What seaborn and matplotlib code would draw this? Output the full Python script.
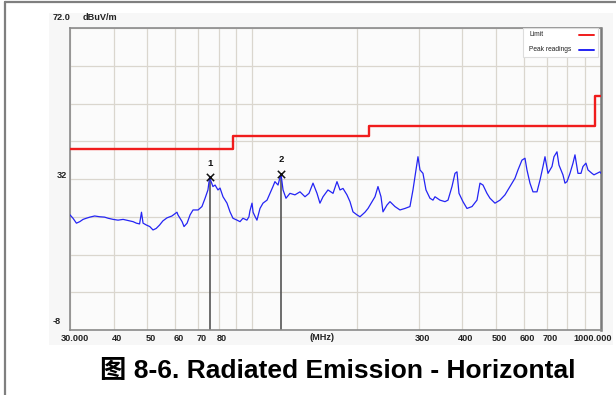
import matplotlib
matplotlib.use("Agg")
import matplotlib.pyplot as plt
import matplotlib.transforms as mtransforms
from matplotlib.patches import Rectangle
from matplotlib.lines import Line2D
import seaborn as sns
import pandas as pd

# Peak readings: frequency (MHz) and level (dBuV/m)
peak_freq = [
    30.0, 30.6, 31.3, 32.0, 32.7, 33.4, 34.2, 35.3, 36.5, 37.7, 38.6, 39.9,
    41.2, 42.6, 44.0, 45.5, 46.5, 47.5, 48.1, 48.6, 49.7, 50.8, 51.9, 53.0,
    54.2, 55.4, 56.9, 58.8, 60.8, 61.2, 62.9, 63.7, 65.0, 66.3, 67.6, 69.9,
    71.7, 73.2, 74.6, 75.4, 77.1, 78.2, 79.7, 80.8, 82.4, 84.6, 86.3, 88.0,
    90.4, 92.2, 94.0, 96.5, 97.8, 98.4, 99.8, 100.5, 101.9, 103.1, 105.2,
    107.3, 110.2, 112.4, 114.6, 116.1, 118.5, 120.8, 122.5, 124.9, 128.2,
    132.5, 137.0, 141.6, 145.4, 149.3, 153.3, 156.3, 159.5, 164.8, 170.4,
    174.9, 178.4, 182.0, 186.8, 190.6, 194.4, 199.6, 203.6, 210.4, 214.7,
    220.4, 224.8, 229.3, 233.9, 237.0, 243.3, 248.2, 256.5, 265.1, 274.0,
    283.2, 288.9, 292.7, 298.6, 302.6, 308.6, 314.8, 323.2, 329.7, 334.1,
    345.3, 356.9, 364.1, 373.8, 381.3, 386.3, 391.5, 401.9, 412.7, 426.6,
    440.9, 449.7, 458.7, 470.9, 480.4, 496.5, 513.2, 530.4, 548.2, 566.6,
    578.0, 593.4, 605.3, 613.3, 625.6, 638.1, 655.3, 668.4, 681.7, 690.8,
    704.6, 723.5, 733.1, 747.7, 757.6, 777.8, 788.3, 798.8, 814.8, 831.1,
    842.1, 858.9, 876.2, 887.7, 905.5, 917.6, 942.0, 954.6, 973.8, 993.1,
    1000.0,
]
peak_level = [
    22.5, 21.6, 20.3, 20.7, 21.3, 21.6, 21.9, 22.2, 22.0, 21.9, 21.6, 21.3,
    21.1, 21.3, 21.0, 20.7, 20.3, 20.1, 23.2, 20.3, 19.8, 19.4, 18.5, 18.9,
    19.8, 20.9, 21.7, 22.2, 23.2, 22.5, 20.7, 19.4, 20.3, 22.5, 23.8, 23.8,
    24.7, 26.9, 29.1, 32.4, 30.0, 30.4, 29.1, 29.6, 27.3, 25.6, 23.3, 21.6,
    21.1, 20.7, 21.6, 21.1, 22.0, 23.5, 25.6, 23.2, 22.0, 21.1, 24.2,
    25.6, 26.4, 28.2, 30.0, 31.3, 30.4, 33.4, 29.1, 26.9, 28.2,
    27.8, 28.6, 27.3, 28.2, 30.9, 28.2, 25.6, 27.3, 29.1, 28.2,
    31.3, 29.1, 29.5, 27.8, 26.0, 23.3, 22.5, 22.0, 23.2, 24.2,
    26.0, 27.3, 30.0, 27.3, 23.3, 25.1, 26.0, 24.7, 23.8, 24.2,
    24.7, 29.1, 32.6, 37.9, 34.4, 33.5, 29.1, 26.9, 26.4, 27.3,
    26.4, 26.0, 26.4, 30.0, 33.5, 33.9, 28.2, 26.0, 24.2, 24.7,
    26.4, 30.9, 30.4, 28.2, 26.9, 25.6, 26.4, 27.8, 30.0, 32.2,
    34.4, 37.0, 37.5, 34.4, 30.9, 28.6, 28.6, 31.7, 35.3, 37.9,
    33.5, 35.3, 37.9, 39.2, 35.7, 33.1, 30.9, 31.3, 33.5, 36.2,
    38.4, 33.5, 33.5, 35.3, 36.2, 34.4, 33.5, 33.1, 33.5, 33.9,
    33.5,
]

# Stepped limit line
limit_freq = [30, 88, 216, 960, 1000]
limit_level = [40.0, 43.5, 46.0, 54.0, 54.0]

# Marked peaks
marker_ids = ["1", "2"]
marker_freq = [75.4, 120.8]
marker_level = [32.4, 33.4]

# Axis grid and labels
x_grid = [30, 40, 50, 60, 70, 80, 90, 100, 200, 300, 400, 500, 600, 700, 800, 900, 1000]
x_labels = ["30.000", "40", "50", "60", "70", "80", "", "", "", "300", "400",
            "500", "600", "700", "", "", "1000.000"]
y_grid = [-8, 2, 12, 22, 32, 42, 52, 62, 72]
y_min, y_max = -8, 72
unit_label = "dBuV/m"
freq_unit = "(MHz)"
title = "图 8-6. Radiated Emission - Horizontal"

sns.set_style("white")
plt.rcParams["font.family"] = ["Liberation Sans", "Noto Sans CJK SC", "DejaVu Sans"]

W, H = 616, 395
fig = plt.figure(figsize=(W / 100, H / 100), dpi=100)
fig.patch.set_facecolor("white")

# light panel behind the chart
fig.patches.append(Rectangle((49 / W, 1 - 345 / H), (613 - 49) / W, (345 - 13) / H,
                             transform=fig.transFigure, facecolor="#f7f7f7",
                             edgecolor="none", zorder=-5))
# frame lines on the left and top
fig.lines.append(Line2D([5 / W, 5 / W], [0, 1 - 2 / H], transform=fig.transFigure,
                        color="#7f7f7f", lw=1.6, zorder=-4))
fig.lines.append(Line2D([5 / W, 1], [1 - 2 / H, 1 - 2 / H], transform=fig.transFigure,
                        color="#7f7f7f", lw=1.6, zorder=-4))

ax = fig.add_axes([70 / W, 1 - 330 / H, 531 / W, 302 / H])
ax.set_facecolor("#fbfbfb")

peaks = pd.DataFrame({"freq": peak_freq, "level": peak_level})
limit = pd.DataFrame({"freq": limit_freq, "level": limit_level})
marks = pd.DataFrame({"freq": marker_freq, "level": marker_level, "id": marker_ids})

sns.lineplot(data=limit, x="freq", y="level", ax=ax, estimator=None, sort=False,
             drawstyle="steps-post", color="#f01c1c", lw=1.7, zorder=4)
sns.lineplot(data=peaks, x="freq", y="level", ax=ax, estimator=None, sort=False,
             color="#2424f4", lw=0.9, zorder=3)

# marker drop lines, crosses and numbers
ax.vlines(marks["freq"], y_min, marks["level"], color="#555555", lw=1.2, zorder=2)
sns.scatterplot(data=marks, x="freq", y="level", ax=ax, marker="x", s=28,
                color="#111111", linewidth=1.1, zorder=5)
for _, r in marks.iterrows():
    ax.annotate(r["id"], (r["freq"], r["level"]), xytext=(0, 7.0),
                textcoords="offset points", ha="center", va="bottom",
                fontsize=6.8, fontweight="bold", color="#111111")

ax.set_xscale("log")
ax.set_xlim(30, 1000)
ax.set_ylim(y_min, y_max)
ax.set_xticks(x_grid)
ax.set_xticklabels(x_labels)
ax.xaxis.set_minor_locator(matplotlib.ticker.NullLocator())
ax.set_yticks(y_grid)
ax.set_yticklabels([])
ax.tick_params(axis="both", length=0)
ax.tick_params(axis="x", pad=3.2, labelsize=6.6, labelcolor="#222222")
xtl = ax.get_xticklabels()
shift = mtransforms.ScaledTranslation(3.5 / 100, 0, fig.dpi_scale_trans)
for lab in xtl:
    lab.set_fontweight("bold")
    lab.set_transform(lab.get_transform() + shift)
xtl[0].set_transform(xtl[0].get_transform() +
                     mtransforms.ScaledTranslation(1.5 / 100, 0, fig.dpi_scale_trans))
# keep the last label inside the figure
xtl[-1].set_horizontalalignment("right")
xtl[-1].set_transform(xtl[-1].get_transform() +
                      mtransforms.ScaledTranslation(7.5 / 100, 0, fig.dpi_scale_trans))
ax.grid(True, color="#dad6ce", lw=0.9)
ax.set_axisbelow(True)
ax.set_xlabel("")
ax.set_ylabel("")
for s in ax.spines.values():
    s.set_color("#8a8a8a")
    s.set_linewidth(1.2)
    s.set_visible(True)
ax.spines["right"].set_linewidth(1.8)
ax.spines["right"].set_color("#7a7a7a")

# axis value labels
ytrans = mtransforms.blended_transform_factory(ax.transAxes, ax.transData)
lab_kw = dict(fontsize=6.6, fontweight="bold", color="#222222", xycoords=ytrans,
              textcoords="offset points")
ax.annotate("72.0", (0, y_max), xytext=(-12.2, 7.6), ha="left", va="center", **lab_kw)
ax.annotate(unit_label, (0, y_max), xytext=(9.4, 7.6), ha="left", va="center", **lab_kw)
ax.annotate("32", (0, 32), xytext=(-5.8, 2.2), ha="center", va="center", **lab_kw)
ax.annotate("-8", (0, y_min), xytext=(-12.2, 5.8), ha="left", va="center", **lab_kw)
ax.text((322 - 70) / 531, -8 / 302, freq_unit, transform=ax.transAxes, ha="center",
        va="center", fontsize=6.6, fontweight="bold", color="#222222")

# legend box
ax.add_patch(Rectangle(((523 - 70) / 531, (330 - 57) / 302), 75 / 531, 29 / 302,
                       transform=ax.transAxes, facecolor="white", edgecolor="#dddddd",
                       lw=0.8, zorder=6))
leg_items = [("Limit", "#f01c1c", 35), ("Peak readings", "#2424f4", 49.5)]
for name, col, py in leg_items:
    yy = (330 - py) / 302
    ax.text((529 - 70) / 531, yy, name, transform=ax.transAxes, ha="left",
            va="center", fontsize=4.8, color="#222222", zorder=7)
    ax.add_line(Line2D([(579 - 70) / 531, (594 - 70) / 531], [yy, yy],
                       transform=ax.transAxes, color=col, lw=1.4, zorder=7))

fig.text(338 / W, 1 - 378 / H, title, ha="center", va="baseline",
         fontsize=19, fontweight="bold", color="black")

fig.savefig("out.png", dpi=100)
